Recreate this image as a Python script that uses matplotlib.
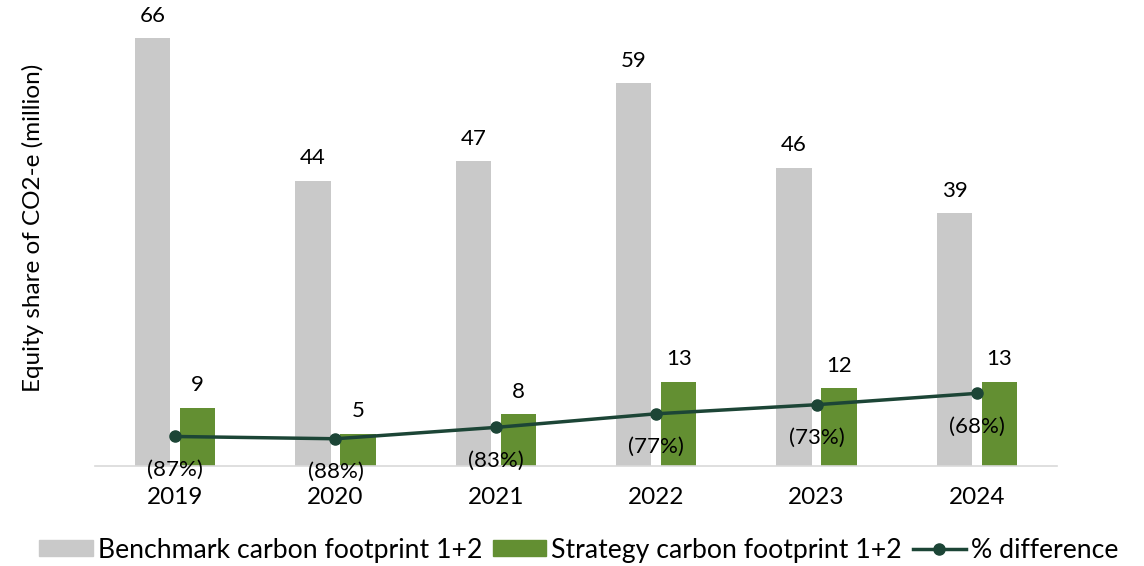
import matplotlib.pyplot as plt
import numpy as np
from matplotlib.lines import Line2D
from matplotlib.patches import Patch

plt.rcParams['font.family'] = ['Lato', 'DejaVu Sans']

# data
years = ["2019", "2020", "2021", "2022", "2023", "2024"]
benchmark = [66, 44, 47, 59, 46, 39]
strategy = [9, 5, 8, 13, 12, 13]
pct_diff = [-87, -88, -83, -77, -73, -68]

gray = "#C9C9C9"
green = "#638F32"
dark = "#1C4536"

fig = plt.figure(figsize=(11.44, 5.66), dpi=100)
ax = fig.add_axes([0.083, 0.1767, 0.841, 0.802])

x = np.arange(len(years))
w = 0.22
b1 = ax.bar(x - 0.14, benchmark, w, color=gray)
b2 = ax.bar(x + 0.14, strategy, w, color=green)

for rect, v in zip(b1, benchmark):
    ax.annotate(str(v), (rect.get_x() + rect.get_width() / 2, v),
                xytext=(0, 16), textcoords="offset points",
                ha="center", va="center", fontsize=16)
for rect, v in zip(b2, strategy):
    ax.annotate(str(v), (rect.get_x() + rect.get_width() / 2, v),
                xytext=(0, 16), textcoords="offset points",
                ha="center", va="center", fontsize=16)

ax.set_xlim(-0.5, len(years) - 0.5)
ax.set_ylim(0, 70)
ax.set_xticks(x)
ax.set_xticklabels(years, fontsize=17.5)
ax.tick_params(axis="x", length=0, pad=15)
ax.set_yticks([])
ax.set_ylabel("Equity share of CO2-e (million)", fontsize=17.5)
ax.yaxis.set_label_coords(-0.053, 0.525)
for s in ["top", "right", "left"]:
    ax.spines[s].set_visible(False)
ax.spines["bottom"].set_color("#D9D9D9")
ax.spines["bottom"].set_linewidth(1.2)

# secondary axis for the % line
ax2 = ax.twinx()
ax2.plot(x, pct_diff, color=dark, lw=2.5, marker="o", ms=8)
ax2.set_ylim(-100, 100)
ax2.set_yticks([])
for s in ax2.spines.values():
    s.set_visible(False)
for xi, v in zip(x, pct_diff):
    ax2.annotate(f"({abs(v)}%)", (xi, v), xytext=(0, -24),
                 textcoords="offset points", ha="center", va="center",
                 fontsize=16)

handles = [Patch(color=gray), Patch(color=green),
           Line2D([], [], color=dark, lw=2.5, marker="o", ms=8)]
labels = ["Benchmark carbon footprint 1+2", "Strategy carbon footprint 1+2",
          "% difference"]
fig.legend(handles, labels, loc="center", bbox_to_anchor=(0.506, 0.028),
           ncol=3, frameon=False, fontsize=19.2, handlelength=2.0,
           handleheight=0.52, handletextpad=0.19, columnspacing=0.4)

fig.savefig("out.png", dpi=100)
